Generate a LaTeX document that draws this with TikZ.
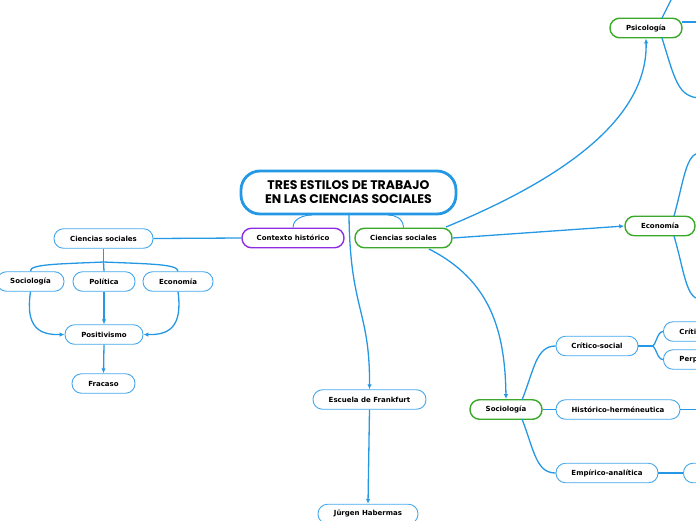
\documentclass[tikz,border=0pt]{standalone}
\usepackage{fontspec}
\setmainfont{DejaVu Sans}
\newfontfamily\titlefont{Poppins}
\usetikzlibrary{arrows.meta}
\definecolor{linkblue}{RGB}{36,152,228}
\definecolor{boxblue}{RGB}{70,168,236}
\definecolor{topgreen}{RGB}{58,168,40}
\definecolor{ctxpurple}{RGB}{142,44,226}
\newcommand{\labelfont}{\fontsize{7}{8}\selectfont\bfseries}
\begin{document}
\begin{tikzpicture}[x=1pt, y=-1pt,
  box/.style={draw=boxblue, line width=0.9pt, fill=white, rounded corners=9.5pt,
    minimum height=19.5pt, inner sep=0pt, font=\labelfont},
  topic/.style={box, draw=topgreen, line width=1.4pt},
  titlebox/.style={draw=linkblue, line width=2.8pt, fill=white, rounded corners=19pt,
    minimum width=215pt, minimum height=43pt, align=center,
    font=\titlefont\fontsize{12.5}{14}\selectfont\bfseries},
  link/.style={draw=linkblue, line width=1.3pt},
  arrow/.style={link, -{Latex[length=5pt,width=4.5pt]}}]
\useasboundingbox (0,0) rectangle (696,520);

% Central topic
\node[titlebox] (title) at (348.5,192.5) {TRES ESTILOS DE TRABAJO\\EN LAS CIENCIAS SOCIALES};
\node[box, draw=ctxpurple, line width=1.4pt, minimum width=102pt] (context) at (293,238) {Contexto histórico};
\node[topic, minimum width=97pt] (social) at (403.5,238) {Ciencias sociales};

% Historical context (left)
\node[box, minimum width=99pt] (lsocial) at (103.5,238.5) {Ciencias sociales};
\node[box, minimum width=67pt] (lsoc) at (30.5,281.5) {Sociología};
\node[box, minimum width=62pt] (lpol) at (104,281.5) {Política};
\node[box, minimum width=70pt] (leco) at (178,281.5) {Economía};
\node[box, minimum width=78pt] (lpos) at (104,334.5) {Positivismo};
\node[box, minimum width=63pt] (lfail) at (103.5,383.5) {Fracaso};

% Frankfurt
\node[box, minimum width=113pt] (frank) at (369.5,399.5) {Escuela de Frankfurt};
\node[box, minimum width=100pt] (haber) at (368,514) {Jürgen Habermas};

% Social sciences (right)
\node[topic, minimum width=72pt] (psy) at (646,28) {Psicología};
\node[topic, minimum width=70pt] (eco) at (660,226) {Economía};
\node[topic, minimum width=72pt] (soc) at (506,409.5) {Sociología};
\node[box, minimum width=82pt] (crit) at (597,346) {Crítico-social};
\node[box, minimum width=124pt] (hist) at (618,409.5) {Histórico-herméneutica};
\node[box, minimum width=102pt] (emp) at (607,473) {Empírico-analítica};
\node[box, anchor=west, text width=50pt, align=left, inner xsep=16pt] (critA) at (663,331.5) {Críti};
\node[box, anchor=west, text width=50pt, align=left, inner xsep=16pt] (critB) at (663,359.5) {Perp};
\node[box, anchor=west, minimum width=60pt] (empA) at (683,473) {};

% Free ends leaving the picture
\coordinate (psyup) at (673,-4);
\coordinate (psyright) at (700,22);
\coordinate (psydown) at (700,98);
\coordinate (ecoup) at (700,153);
\coordinate (ecodown) at (700,299);
\coordinate (histout) at (700,409.5);

% Title branches
\draw[link, line width=0.9pt] (context.north) .. controls (293,218) and (305,215) .. (312,215);
\draw[link, line width=0.9pt] (social.north) .. controls (403,218) and (395,215) .. (388,215);
\draw[arrow] (349,215) .. controls (350,310) and (370,310) .. (frank.north);
\draw[arrow] (frank.south) -- (haber.north);

% Left branch
\draw[link] (context.west) -- (lsocial.east);
\draw[link] (lsocial.south) -- (103.5,262);
\draw[link] (103.5,262) .. controls (60,264) and (29,264) .. (lsoc.north);
\draw[link] (103.5,262) -- (lpol.north);
\draw[link] (103.5,262) .. controls (150,264) and (178,264) .. (leco.north);
\draw[arrow] (lsoc.south) .. controls (25,328) and (40,335) .. (lpos.west);
\draw[arrow] (lpol.south) -- (lpos.north);
\draw[arrow] (leco.south) .. controls (183,328) and (168,335) .. (lpos.east);
\draw[arrow] (lpos.south) -- (lfail.north);

% Right branch
\draw[arrow] (446,227) .. controls (560,180) and (648,120) .. (psy.south);
\draw[arrow] (social.east) -- (eco.west);
\draw[arrow] (429,249) .. controls (490,280) and (505,330) .. (soc.north);
\draw[link] (522,400) .. controls (534,370) and (536,346) .. (crit.west);
\draw[link] (soc.east) -- (hist.west);
\draw[link] (522,419) .. controls (534,450) and (536,473) .. (emp.west);
\draw[link] (crit.east) -- (652,346);
\draw[link] (652,346) .. controls (656,346) and (657,331.5) .. (critA.west);
\draw[link] (652,346) .. controls (656,346) and (657,359.5) .. (critB.west);
\draw[link] (hist.east) -- (histout);
\draw[link] (emp.east) -- (empA.west);
\draw[link] (662,18) -- (psyup);
\draw[link] (682,22) -- (psyright);
\draw[link] (662,38) .. controls (675,80) and (678,97) .. (psydown);
\draw[link] (674,216) .. controls (684,180) and (686,153) .. (ecoup);
\draw[link] (674,236) .. controls (684,270) and (686,299) .. (ecodown);
\end{tikzpicture}
\end{document}
